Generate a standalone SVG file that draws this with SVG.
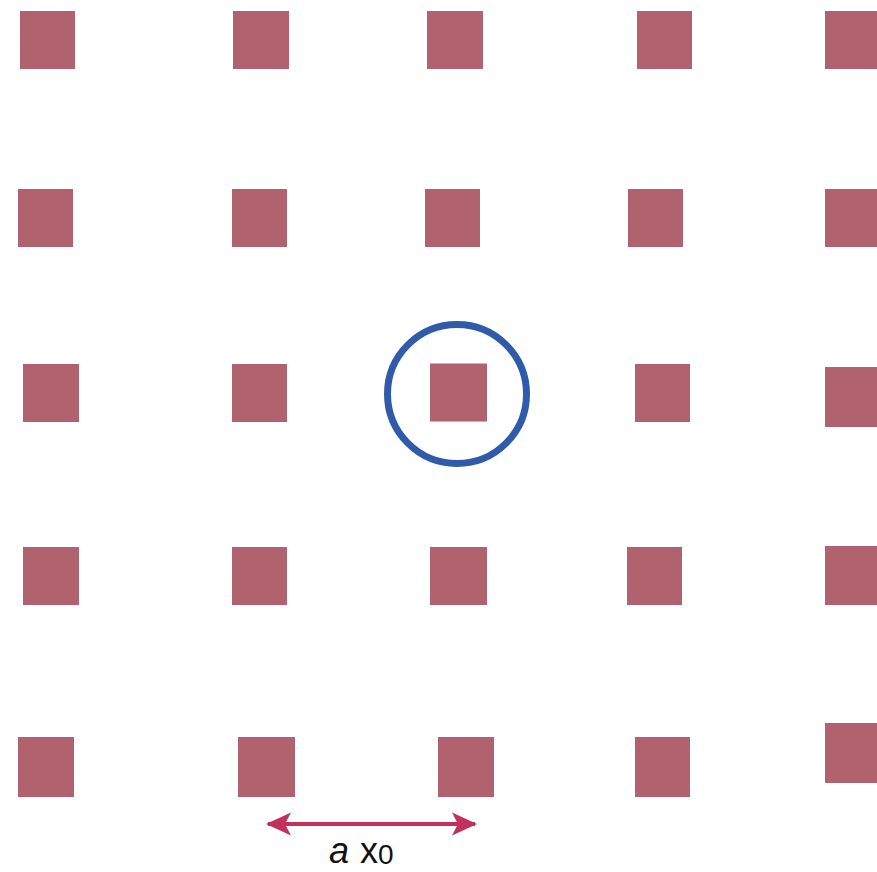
<svg xmlns="http://www.w3.org/2000/svg" width="877" height="872" viewBox="0 0 877 872">
<style>
.sq{fill:#B0626F}
.lbl{font-family:"Liberation Sans","DejaVu Sans",sans-serif;fill:#111}
</style>
<defs>
<marker id="ah" markerUnits="userSpaceOnUse" markerWidth="26" markerHeight="26" refX="23" refY="13" orient="auto-start-reverse">
<path d="M0,1.5 L25,13 L0,24.5 L6,13 Z" fill="#C2305C"/>
</marker>
</defs>
<rect width="877" height="872" fill="#fff"/>
<g id="row1">
<rect id="s11" class="sq" x="20" y="11" width="55" height="58"/>
<rect id="s12" class="sq" x="233" y="11" width="56" height="58"/>
<rect id="s13" class="sq" x="427" y="11" width="56" height="58"/>
<rect id="s14" class="sq" x="637" y="11" width="55" height="58"/>
<rect id="s15" class="sq" x="825" y="11" width="56" height="58"/>
</g>
<g id="row2">
<rect id="s21" class="sq" x="18" y="189" width="55" height="58"/>
<rect id="s22" class="sq" x="232" y="189" width="55" height="58"/>
<rect id="s23" class="sq" x="425" y="189" width="55" height="58"/>
<rect id="s24" class="sq" x="628" y="189" width="55" height="58"/>
<rect id="s25" class="sq" x="825" y="189" width="56" height="58"/>
</g>
<g id="row3">
<rect id="s31" class="sq" x="23" y="364" width="56" height="58"/>
<rect id="s32" class="sq" x="232" y="364" width="55" height="58"/>
<g id="center">
<rect id="s33" class="sq" x="430" y="363.5" width="57" height="58"/>
<circle cx="457" cy="394" r="69.5" fill="none" stroke="#2F5BAA" stroke-width="7"/>
</g>
<rect id="s34" class="sq" x="635" y="364" width="55" height="58"/>
<rect id="s35" class="sq" x="825" y="367" width="56" height="60"/>
</g>
<g id="row4">
<rect id="s41" class="sq" x="23" y="547" width="56" height="58"/>
<rect id="s42" class="sq" x="232" y="547" width="55" height="58"/>
<rect id="s43" class="sq" x="430" y="547" width="57" height="58"/>
<rect id="s44" class="sq" x="627" y="547" width="55" height="58"/>
<rect id="s45" class="sq" x="825" y="546" width="56" height="59"/>
</g>
<g id="row5">
<rect id="s51" class="sq" x="18" y="737" width="56" height="60"/>
<rect id="s52" class="sq" x="238" y="737" width="57" height="60"/>
<rect id="s53" class="sq" x="438" y="737" width="56" height="60"/>
<rect id="s54" class="sq" x="635" y="737" width="55" height="60"/>
<rect id="s55" class="sq" x="825" y="723" width="56" height="60"/>
</g>
<g id="connectors">
<line x1="268" y1="824" x2="475" y2="824" stroke="#C2305C" stroke-width="4" marker-start="url(#ah)" marker-end="url(#ah)"/>
</g>
<g id="label">
<text class="lbl" x="329" y="863" font-size="36" font-style="italic">a</text>
<text class="lbl" x="360" y="863" font-size="36">x<tspan font-size="28" dy="1">0</tspan></text>
</g>
</svg>
